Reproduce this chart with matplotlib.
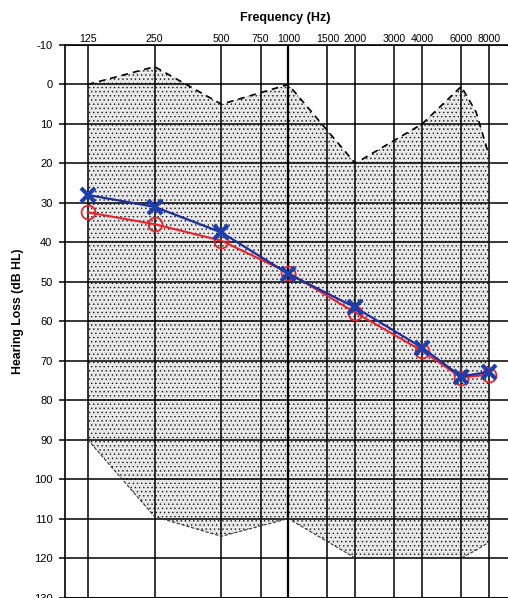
import matplotlib
matplotlib.use("Agg")
import matplotlib.pyplot as plt
from matplotlib.patches import Polygon

plt.rcParams['font.family'] = ['Liberation Sans', 'DejaVu Sans']

# Audiometric frequencies (Hz) and tick labels
freq_ticks = [125, 250, 500, 750, 1000, 1500, 2000, 3000, 4000, 6000, 8000]
freq_labels = ['125', '250', '500', '750', '1000', '1500', '2000', '3000', '4000', '6000', '8000']
db_ticks = list(range(-10, 140, 10))

# Thresholds (dB HL)
test_freqs = [125, 250, 500, 1000, 2000, 4000, 6000, 8000]
left_ear_x = [28, 31, 37.5, 48, 56.5, 66.7, 74, 72.8]
right_ear_o = [32.4, 35.4, 39.6, 47.7, 57.8, 67.5, 74.3, 73.5]

# Fitting range (dB HL): upper and lower limits
range_freqs = [125, 250, 500, 1000, 2000, 4000, 6000, 7000, 8000]
range_upper = [0, -4.5, 5, 0, 20, 10, 0.5, 7, 18]
range_lower = [90, 109.5, 114.5, 110, 120, 120, 120, 118, 116]

W, H = 508, 598
fig = plt.figure(figsize=(W / 100, H / 100), dpi=100)
ax_left, ax_right = 65 / W, 508 / W
ax_bot, ax_top = (H - 597.5) / H, (H - 45) / H
ax = fig.add_axes([ax_left, ax_bot, ax_right - ax_left, ax_top - ax_bot])

ax.set_xscale('log', base=2)
ax.set_xlim(98.8, 9740)
ax.set_ylim(130, -10)

# Shaded range: light base, grey fine dots, black coarse dots
verts = list(zip(range_freqs, range_upper)) + list(zip(range_freqs[::-1], range_lower[::-1]))
plt.rcParams['hatch.linewidth'] = 0.5
base = Polygon(verts, closed=True, facecolor='#f3f3f3', edgecolor='none', zorder=1)
ax.add_patch(base)
grey = Polygon(verts, closed=True, facecolor='none', edgecolor='#bdbdbd', hatch='.......',
               linewidth=0, zorder=1.1)
ax.add_patch(grey)
black = Polygon(verts, closed=True, facecolor='none', edgecolor='#1a1a1a', hatch='....',
                linewidth=0, zorder=1.2)
ax.add_patch(black)

# Range boundaries
ax.plot(range_freqs, range_upper, color='black', lw=1.2, ls=(0, (4, 3)), zorder=3)
ax.plot(range_freqs, range_lower, color='#333333', lw=0.8, ls=(0, (3, 1.5)), zorder=3)
ax.plot([range_freqs[-1]] * 2, [range_upper[-1], range_lower[-1]], color='#333333',
        lw=0.8, ls=(0, (2, 2)), zorder=3)

# Grid
for f in freq_ticks:
    ax.axvline(f, color='black', lw=1.6 if f == 1000 else 1.1, zorder=2)
for d in db_ticks:
    ax.axhline(d, color='black', lw=1.1, zorder=2)

# Threshold curves
ax.plot(test_freqs, right_ear_o, color='#e8232b', lw=1.5, marker='o', ms=10,
        mfc='none', mec='#e8232b', mew=1.3, zorder=5)
ax.plot(test_freqs, left_ear_x, color='#1c2f9c', lw=1.6, marker='x', ms=10,
        mec='#1c3fb0', mew=3, zorder=6)

# Axes decoration
ax.xaxis.tick_top()
ax.set_xticks(freq_ticks)
ax.set_xticklabels(freq_labels)
ax.xaxis.set_minor_locator(matplotlib.ticker.NullLocator())
ax.tick_params(axis='x', length=0, pad=1, labelsize=7.6)
ax.set_yticks(db_ticks)
ax.set_yticklabels([str(d) for d in db_ticks])
ax.tick_params(axis='y', length=4, width=1.1, pad=5, labelsize=8)
for s in ['top', 'left', 'bottom']:
    ax.spines[s].set_linewidth(1.2)
ax.spines['right'].set_visible(False)

fig.text(285 / W, 1 - 18 / H, 'Frequency (Hz)', ha='center', va='center',
         fontsize=9, fontweight='bold')
fig.text(18 / W, 1 - 311 / H, 'Hearing Loss (dB HL)', ha='center', va='center',
         rotation=90, fontsize=8.8, fontweight='bold')

fig.savefig('out.png', dpi=100)
